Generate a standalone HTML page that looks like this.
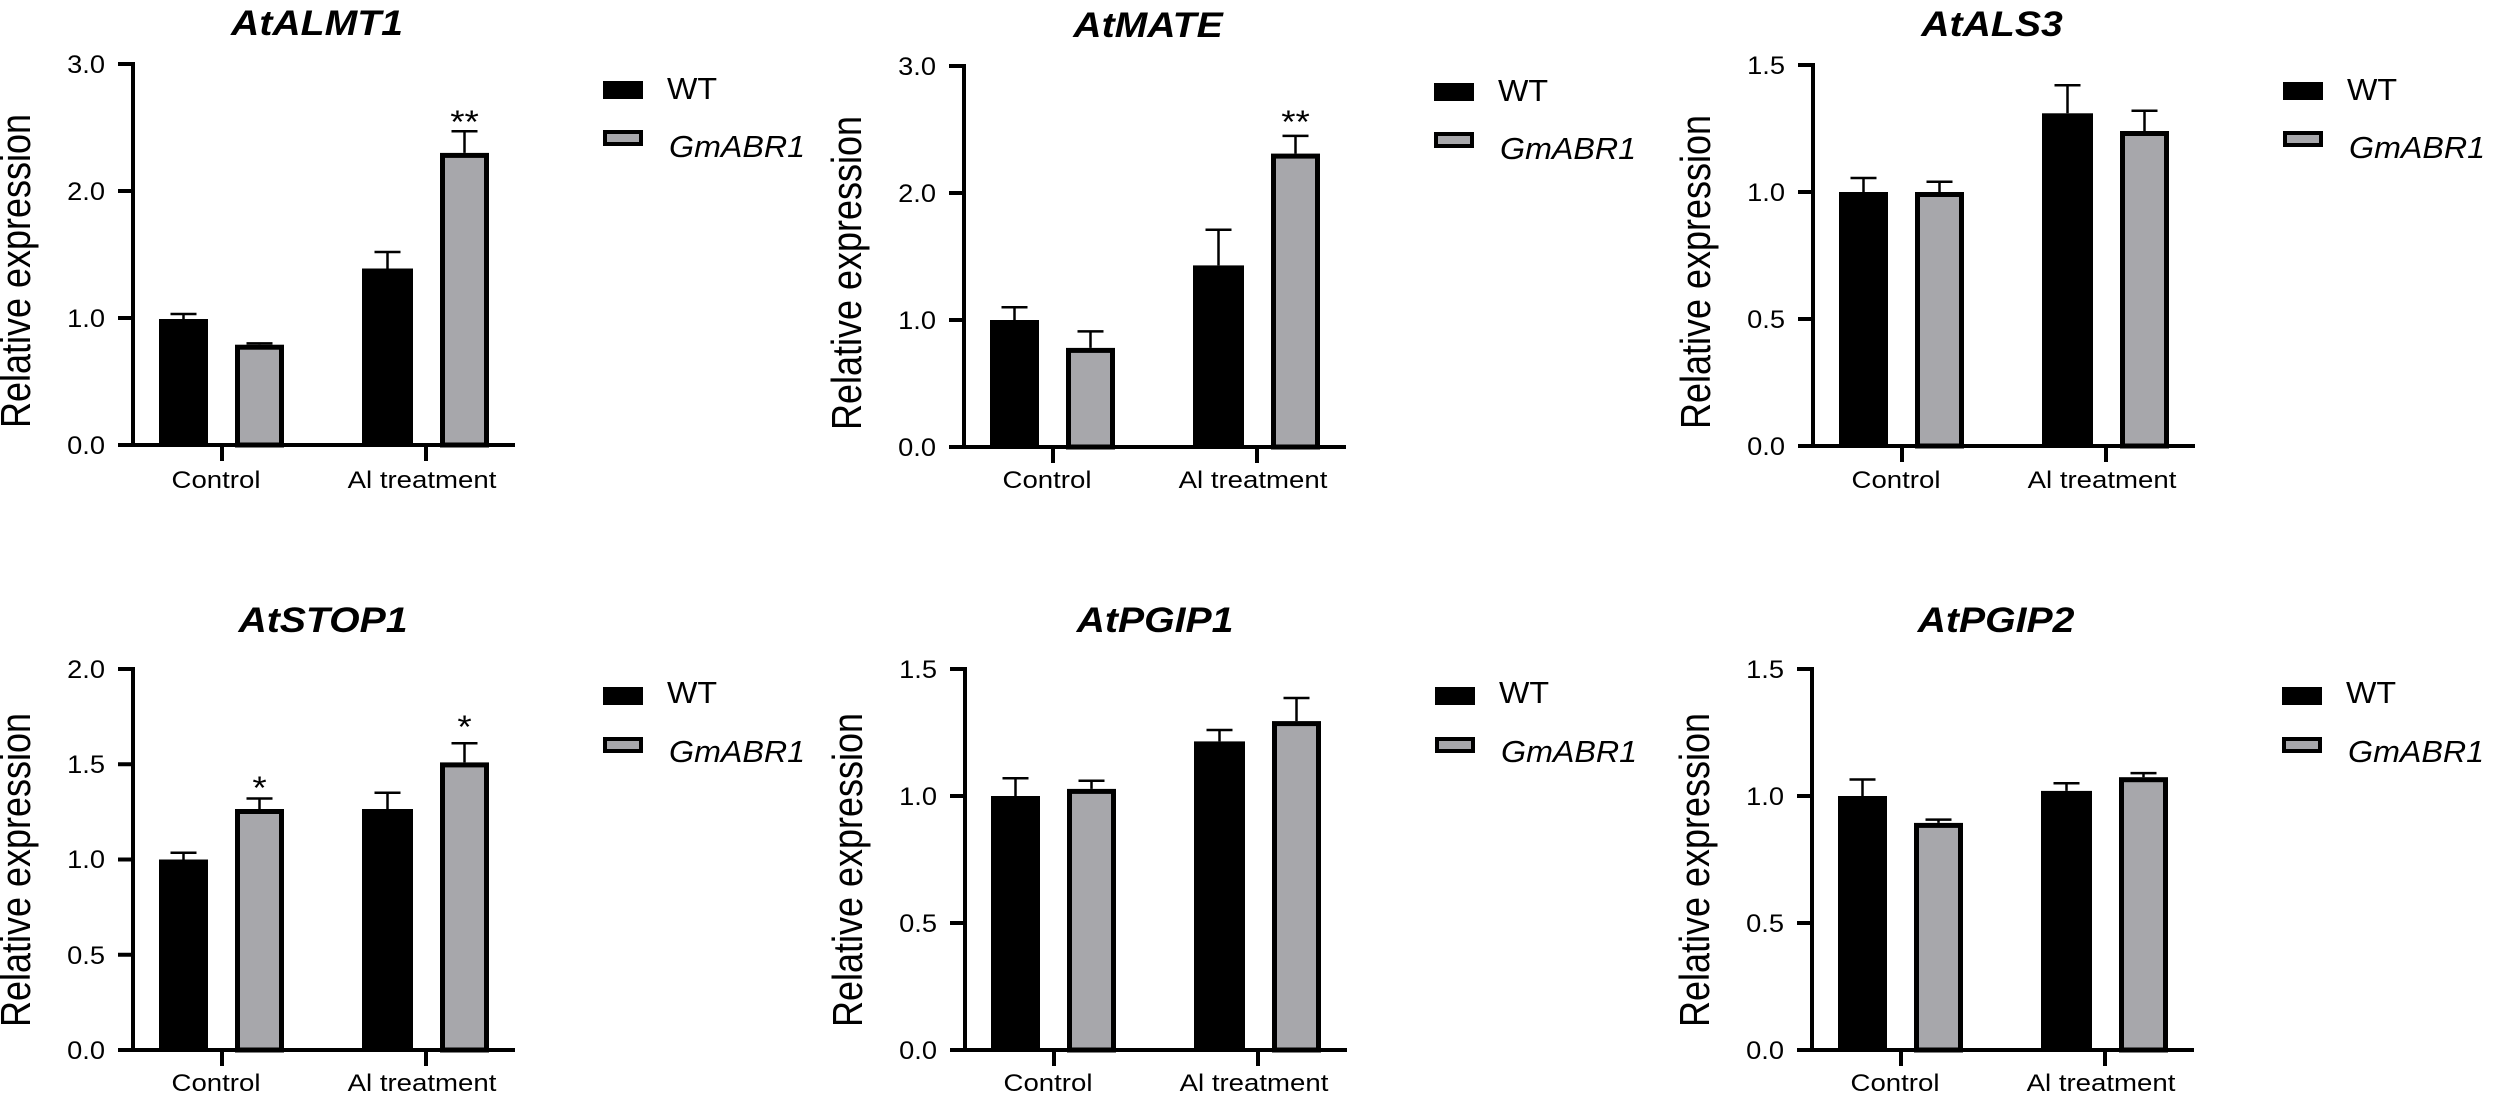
<!DOCTYPE html>
<html><head><meta charset="utf-8"><style>
html,body{margin:0;padding:0;background:#fff}
svg{display:block}
text{font-family:"Liberation Sans",Arial,sans-serif;fill:#000}
.t{font-size:35px;font-weight:bold;font-style:italic;text-anchor:middle}
.k{font-size:25px;text-anchor:end}
.x{font-size:24px;text-anchor:middle}
.y{font-size:36px;text-anchor:middle}
.l{font-size:31px}
.s{font-size:32px;text-anchor:middle}
.ax{stroke:#000;stroke-width:4;fill:none}
.e{stroke:#000;stroke-width:2.5;fill:none}
.g{fill:#a7a7ab;stroke:#000;stroke-width:5}
.lg{fill:#a7a7ab;stroke:#000;stroke-width:4}
</style></head><body>
<svg width="2500" height="1097" viewBox="0 0 2500 1097" xmlns="http://www.w3.org/2000/svg">

<!-- Panel 1 -->
<g transform="translate(133,0)">
<text class="t" transform="translate(184,35) scale(1.12,1)">AtALMT1</text>
<text class="y" transform="translate(-103,271) scale(1.15,1) rotate(-90)">Relative expression</text>
<rect x="26" y="319" width="49" height="126"/>
<path class="e" d="M50.5 319V314M37.5 314H63.5"/>
<rect class="g" x="104.5" y="347.2" width="44" height="97.8"/>
<path class="e" d="M126.5 344.7V343.4M113.5 343.4H139.5"/>
<rect x="229" y="268.5" width="51" height="176.5"/>
<path class="e" d="M254.5 268.5V252M241.5 252H267.5"/>
<rect class="g" x="309.5" y="155.4" width="44" height="289.6"/>
<path class="e" d="M331.5 152.9V131.3M318.5 131.3H344.5"/>
<text class="s" transform="translate(331.5,133) scale(1.15,1)">**</text>
<path class="ax" d="M0 62V445M-15 445H382M-15 64H0M-15 191H0M-15 318H0M89 445V461M293 445V461"/>
<text class="k" transform="translate(-28,73) scale(1.09,1)">3.0</text>
<text class="k" transform="translate(-28,200) scale(1.09,1)">2.0</text>
<text class="k" transform="translate(-28,327) scale(1.09,1)">1.0</text>
<text class="k" transform="translate(-28,454) scale(1.09,1)">0.0</text>
<text class="x" transform="translate(83,488) scale(1.15,1)">Control</text>
<text class="x" transform="translate(289,488) scale(1.15,1)">Al treatment</text>
<rect x="470" y="81" width="40" height="18"/>
<rect class="lg" x="472" y="132" width="36" height="12"/>
<text class="l" transform="translate(534,99) scale(1.04,1)">WT</text>
<text class="l" font-style="italic" transform="translate(536,157) scale(1.04,1)">GmABR1</text>
</g>

<!-- Panel 2 -->
<g transform="translate(964,2)">
<text class="t" transform="translate(184,35) scale(1.12,1)">AtMATE</text>
<text class="y" transform="translate(-103,271) scale(1.15,1) rotate(-90)">Relative expression</text>
<rect x="26" y="318" width="49" height="127"/>
<path class="e" d="M50.5 318V305.3M37.5 305.3H63.5"/>
<rect class="g" x="104.5" y="348.4" width="44" height="96.6"/>
<path class="e" d="M126.5 345.9V329.4M113.5 329.4H139.5"/>
<rect x="229" y="263.4" width="51" height="181.6"/>
<path class="e" d="M254.5 263.4V227.8M241.5 227.8H267.5"/>
<rect class="g" x="309.5" y="154.1" width="44" height="290.9"/>
<path class="e" d="M331.5 151.6V133.9M318.5 133.9H344.5"/>
<text class="s" transform="translate(331.5,131) scale(1.15,1)">**</text>
<path class="ax" d="M0 62V445M-15 445H382M-15 64H0M-15 191H0M-15 318H0M89 445V461M293 445V461"/>
<text class="k" transform="translate(-28,73) scale(1.09,1)">3.0</text>
<text class="k" transform="translate(-28,200) scale(1.09,1)">2.0</text>
<text class="k" transform="translate(-28,327) scale(1.09,1)">1.0</text>
<text class="k" transform="translate(-28,454) scale(1.09,1)">0.0</text>
<text class="x" transform="translate(83,486) scale(1.15,1)">Control</text>
<text class="x" transform="translate(289,486) scale(1.15,1)">Al treatment</text>
<rect x="470" y="81" width="40" height="18"/>
<rect class="lg" x="472" y="132" width="36" height="12"/>
<text class="l" transform="translate(534,99) scale(1.04,1)">WT</text>
<text class="l" font-style="italic" transform="translate(536,157) scale(1.04,1)">GmABR1</text>
</g>

<!-- Panel 3 -->
<g transform="translate(1813,1)">
<text class="t" transform="translate(179,35) scale(1.12,1)">AtALS3</text>
<text class="y" transform="translate(-103,271) scale(1.15,1) rotate(-90)">Relative expression</text>
<rect x="26" y="191" width="49" height="254"/>
<path class="e" d="M50.5 191V177M37.5 177H63.5"/>
<rect class="g" x="104.5" y="193.5" width="44" height="251.5"/>
<path class="e" d="M126.5 191V180.8M113.5 180.8H139.5"/>
<rect x="229" y="112.3" width="51" height="332.7"/>
<path class="e" d="M254.5 112.3V84.3M241.5 84.3H267.5"/>
<rect class="g" x="309.5" y="132.5" width="44" height="312.5"/>
<path class="e" d="M331.5 130V109.7M318.5 109.7H344.5"/>
<path class="ax" d="M0 62V445M-15 445H382M-15 64H0M-15 191H0M-15 318H0M89 445V461M293 445V461"/>
<text class="k" transform="translate(-28,73) scale(1.09,1)">1.5</text>
<text class="k" transform="translate(-28,200) scale(1.09,1)">1.0</text>
<text class="k" transform="translate(-28,327) scale(1.09,1)">0.5</text>
<text class="k" transform="translate(-28,454) scale(1.09,1)">0.0</text>
<text class="x" transform="translate(83,487) scale(1.15,1)">Control</text>
<text class="x" transform="translate(289,487) scale(1.15,1)">Al treatment</text>
<rect x="470" y="81" width="40" height="18"/>
<rect class="lg" x="472" y="132" width="36" height="12"/>
<text class="l" transform="translate(534,99) scale(1.04,1)">WT</text>
<text class="l" font-style="italic" transform="translate(536,157) scale(1.04,1)">GmABR1</text>
</g>

<!-- Panel 4 -->
<g transform="translate(133,0)">
<text class="t" transform="translate(190,632) scale(1.12,1)">AtSTOP1</text>
<text class="y" transform="translate(-103,870) scale(1.15,1) rotate(-90)">Relative expression</text>
<rect x="26" y="859.5" width="49" height="190.5"/>
<path class="e" d="M50.5 859.5V852.8M37.5 852.8H63.5"/>
<rect class="g" x="104.5" y="811.5" width="44" height="238.5"/>
<path class="e" d="M126.5 809V798.5M113.5 798.5H139.5"/>
<text class="s" transform="translate(126.5,799) scale(1.15,1)">*</text>
<rect x="229" y="809" width="51" height="241"/>
<path class="e" d="M254.5 809V792.8M241.5 792.8H267.5"/>
<rect class="g" x="309.5" y="764.9" width="44" height="285.1"/>
<path class="e" d="M331.5 762.4V743.3M318.5 743.3H344.5"/>
<text class="s" transform="translate(331.5,738) scale(1.15,1)">*</text>
<path class="ax" d="M0 667V1050M-15 1050H382M-15 669H0M-15 764.25H0M-15 859.5H0M-15 954.75H0M89 1050V1066M293 1050V1066"/>
<text class="k" transform="translate(-28,678) scale(1.09,1)">2.0</text>
<text class="k" transform="translate(-28,773) scale(1.09,1)">1.5</text>
<text class="k" transform="translate(-28,868) scale(1.09,1)">1.0</text>
<text class="k" transform="translate(-28,964) scale(1.09,1)">0.5</text>
<text class="k" transform="translate(-28,1059) scale(1.09,1)">0.0</text>
<text class="x" transform="translate(83,1091) scale(1.15,1)">Control</text>
<text class="x" transform="translate(289,1091) scale(1.15,1)">Al treatment</text>
<rect x="470" y="687" width="40" height="18"/>
<rect class="lg" x="472" y="739" width="36" height="12"/>
<text class="l" transform="translate(534,703) scale(1.04,1)">WT</text>
<text class="l" font-style="italic" transform="translate(536,762) scale(1.04,1)">GmABR1</text>
</g>

<!-- Panel 5 -->
<g transform="translate(965,0)">
<text class="t" transform="translate(190,632) scale(1.12,1)">AtPGIP1</text>
<text class="y" transform="translate(-103,870) scale(1.15,1) rotate(-90)">Relative expression</text>
<rect x="26" y="796" width="49" height="254"/>
<path class="e" d="M50.5 796V778.2M37.5 778.2H63.5"/>
<rect class="g" x="104.5" y="791.4" width="44" height="258.6"/>
<path class="e" d="M126.5 788.9V780.8M113.5 780.8H139.5"/>
<rect x="229" y="741.4" width="51" height="308.6"/>
<path class="e" d="M254.5 741.4V730M241.5 730H267.5"/>
<rect class="g" x="309.5" y="723.6" width="44" height="326.4"/>
<path class="e" d="M331.5 721.1V698M318.5 698H344.5"/>
<path class="ax" d="M0 667V1050M-15 1050H382M-15 669H0M-15 796H0M-15 923H0M89 1050V1066M293 1050V1066"/>
<text class="k" transform="translate(-28,678) scale(1.09,1)">1.5</text>
<text class="k" transform="translate(-28,805) scale(1.09,1)">1.0</text>
<text class="k" transform="translate(-28,932) scale(1.09,1)">0.5</text>
<text class="k" transform="translate(-28,1059) scale(1.09,1)">0.0</text>
<text class="x" transform="translate(83,1091) scale(1.15,1)">Control</text>
<text class="x" transform="translate(289,1091) scale(1.15,1)">Al treatment</text>
<rect x="470" y="687" width="40" height="18"/>
<rect class="lg" x="472" y="739" width="36" height="12"/>
<text class="l" transform="translate(534,703) scale(1.04,1)">WT</text>
<text class="l" font-style="italic" transform="translate(536,762) scale(1.04,1)">GmABR1</text>
</g>

<!-- Panel 6 -->
<g transform="translate(1812,0)">
<text class="t" transform="translate(184,632) scale(1.12,1)">AtPGIP2</text>
<text class="y" transform="translate(-103,870) scale(1.15,1) rotate(-90)">Relative expression</text>
<rect x="26" y="796" width="49" height="254"/>
<path class="e" d="M50.5 796V779.5M37.5 779.5H63.5"/>
<rect class="g" x="104.5" y="825.4" width="44" height="224.6"/>
<path class="e" d="M126.5 822.9V819.6M113.5 819.6H139.5"/>
<rect x="229" y="790.9" width="51" height="259.1"/>
<path class="e" d="M254.5 790.9V783.3M241.5 783.3H267.5"/>
<rect class="g" x="309.5" y="779.7" width="44" height="270.3"/>
<path class="e" d="M331.5 777.2V773.1M318.5 773.1H344.5"/>
<path class="ax" d="M0 667V1050M-15 1050H382M-15 669H0M-15 796H0M-15 923H0M89 1050V1066M293 1050V1066"/>
<text class="k" transform="translate(-28,678) scale(1.09,1)">1.5</text>
<text class="k" transform="translate(-28,805) scale(1.09,1)">1.0</text>
<text class="k" transform="translate(-28,932) scale(1.09,1)">0.5</text>
<text class="k" transform="translate(-28,1059) scale(1.09,1)">0.0</text>
<text class="x" transform="translate(83,1091) scale(1.15,1)">Control</text>
<text class="x" transform="translate(289,1091) scale(1.15,1)">Al treatment</text>
<rect x="470" y="687" width="40" height="18"/>
<rect class="lg" x="472" y="739" width="36" height="12"/>
<text class="l" transform="translate(534,703) scale(1.04,1)">WT</text>
<text class="l" font-style="italic" transform="translate(536,762) scale(1.04,1)">GmABR1</text>
</g>
</svg>
</body></html>
